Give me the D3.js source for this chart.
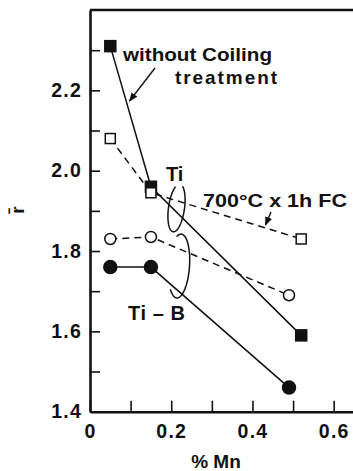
<!DOCTYPE html>
<html>
<head>
<meta charset="utf-8">
<script src="https://cdn.jsdelivr.net/npm/d3@7"></script>
<style>
  body { margin: 0; background: #fff; }
  svg text { font-family: "Liberation Sans", Arial, sans-serif; font-weight: bold; fill: #111; }
</style>
</head>
<body>
<svg id="chart" width="353" height="471"></svg>
<script>
// r-bar vs %Mn, Ti and Ti-B steels, with / without coiling treatment

const mnTi = [0.05, 0.15, 0.52];
const mnTiB = [0.05, 0.15, 0.49];
const rTiNoCoil = [2.31, 1.96, 1.59];
const rTiFC = [2.08, 1.945, 1.83];
const rTiBFC = [1.83, 1.835, 1.69];
const rTiBNoCoil = [1.76, 1.76, 1.46];

const xTicks = [0, 0.1, 0.2, 0.3, 0.4, 0.5, 0.6];
const yTicks = [1.4, 1.5, 1.6, 1.7, 1.8, 1.9, 2.0, 2.1, 2.2, 2.3];

let svg = d3.select("#chart");
const plotLeft = 90, plotRight = 354, plotTop = 10, plotBottom = 411.7;

let x = d3.scaleLinear().domain([0, 0.65]).range([plotLeft, plotRight]);
let y = d3.scaleLinear().domain([1.4, 2.4]).range([plotBottom, plotTop]);

// arrow head
svg.append("defs").append("marker")
    .attr("id", "arrow")
    .attr("viewBox", "0 0 10 10")
    .attr("refX", 9).attr("refY", 5)
    .attr("markerWidth", 9).attr("markerHeight", 9)
    .attr("markerUnits", "userSpaceOnUse")
    .attr("orient", "auto")
    .append("path").attr("d", "M0,1 L10,5 L0,9 Z").attr("fill", "#111");

// axes, ticks point inward
let yAxis = svg.append("g")
    .attr("transform", "translate(" + plotLeft + ",0)")
    .call(d3.axisLeft(y).tickValues(yTicks).tickSizeInner(-10).tickSizeOuter(0).tickPadding(8)
        .tickFormat(d => (Math.round(d * 10) % 2 == 0) ? d3.format(".1f")(d) : ""));
let xAxis = svg.append("g")
    .attr("transform", "translate(0," + plotBottom + ")")
    .call(d3.axisBottom(x).tickValues(xTicks).tickSizeInner(-11).tickSizeOuter(0).tickPadding(8)
        .tickFormat(d => (Math.round(d * 10) % 2 == 0) ? (d == 0 ? "0" : d3.format(".1f")(d)) : ""));

[yAxis, xAxis].forEach(a => {
    a.select(".domain").attr("stroke", "#111").attr("stroke-width", 2.6);
    a.selectAll(".tick line").attr("stroke", "#111").attr("stroke-width", 1.6);
    a.selectAll(".tick text").style("font-size", "19.5px").attr("letter-spacing", "1.2px").attr("fill", "#111");
});
xAxis.selectAll(".tick text").attr("dy", "0.95em");

// top border
svg.append("path")
    .attr("d", "M" + plotLeft + "," + y(2.4) + "H" + plotRight)
    .attr("stroke", "#111").attr("stroke-width", 2.6).attr("fill", "none");

// series lines
const series = [
    { xs: mnTi, ys: rTiNoCoil, dash: null, shape: "square", filled: true },
    { xs: mnTi, ys: rTiFC, dash: "7,5", shape: "square", filled: false },
    { xs: mnTiB, ys: rTiBFC, dash: "7,5", shape: "circle", filled: false },
    { xs: mnTiB, ys: rTiBNoCoil, dash: null, shape: "circle", filled: true }
];

let line = d3.line().x(d => x(d[0])).y(d => y(d[1]));

series.forEach(s => {
    let pts = s.xs.map((v, i) => [v, s.ys[i]]);
    svg.append("path").datum(pts)
        .attr("d", line)
        .attr("fill", "none")
        .attr("stroke", "#111")
        .attr("stroke-width", 1.5)
        .attr("stroke-dasharray", s.dash);
});

// markers on top
series.forEach(s => {
    let pts = s.xs.map((v, i) => [v, s.ys[i]]);
    if (s.shape == "square") {
        let size = s.filled ? 11 : 10;
        svg.selectAll(null).data(pts).join("rect")
            .attr("x", d => x(d[0]) - size / 2)
            .attr("y", d => y(d[1]) - size / 2)
            .attr("width", size).attr("height", size)
            .attr("fill", s.filled ? "#111" : "#fff")
            .attr("stroke", "#111").attr("stroke-width", 1.5);
    } else {
        svg.selectAll(null).data(pts).join("circle")
            .attr("cx", d => x(d[0]))
            .attr("cy", d => y(d[1]))
            .attr("r", s.filled ? 6.5 : 5.5)
            .attr("fill", s.filled ? "#111" : "#fff")
            .attr("stroke", "#111").attr("stroke-width", 1.5);
    }
});

// annotations
svg.append("text").attr("x", 123).attr("y", 61).text("without Coiling")
    .style("font-size", "19px").attr("textLength", 149).attr("lengthAdjust", "spacingAndGlyphs");
svg.append("text").attr("x", 175).attr("y", 84).text("treatment")
    .style("font-size", "19px").attr("textLength", 102).attr("lengthAdjust", "spacing");
svg.append("line")
    .attr("x1", 155).attr("y1", 68).attr("x2", 129.5).attr("y2", 101)
    .attr("stroke", "#111").attr("stroke-width", 1.4).attr("marker-end", "url(#arrow)");

svg.append("text").attr("x", 166).attr("y", 181).text("Ti").style("font-size", "20px");
svg.append("text").attr("x", 203).attr("y", 207).text("700°C x 1h FC")
    .style("font-size", "19px").attr("textLength", 144).attr("lengthAdjust", "spacingAndGlyphs");
svg.append("line")
    .attr("x1", 271).attr("y1", 212).attr("x2", 265.5).attr("y2", 225)
    .attr("stroke", "#111").attr("stroke-width", 1.4).attr("marker-end", "url(#arrow)");

svg.append("text").attr("x", 128).attr("y", 320).text("Ti – B")
    .style("font-size", "20px").attr("textLength", 57).attr("lengthAdjust", "spacing");

// loops grouping the curves
function loop(cx, cy, rx, ry, rot, a0, a1) {
    let pts = d3.range(a0, a1 + 0.01, 0.05).map(t => [rx * Math.cos(t), ry * Math.sin(t)]);
    svg.append("path")
        .attr("d", d3.line()(pts))
        .attr("transform", "translate(" + cx + "," + cy + ") rotate(" + rot + ")")
        .attr("fill", "none").attr("stroke", "#111").attr("stroke-width", 1.5);
}
loop(176.5, 208, 8, 24, 8, -1.2, 4.2);
loop(179, 266, 10.5, 32, 4, -2.0, 2.3);

// axis titles
svg.append("text").attr("x", 216).attr("y", 468).attr("text-anchor", "middle")
    .text("% Mn").style("font-size", "19px");
svg.append("text")
    .attr("transform", "translate(24,210) rotate(-90)")
    .attr("text-anchor", "middle")
    .style("font-size", "19px")
    .text("r̄");
</script>
</body>
</html>
